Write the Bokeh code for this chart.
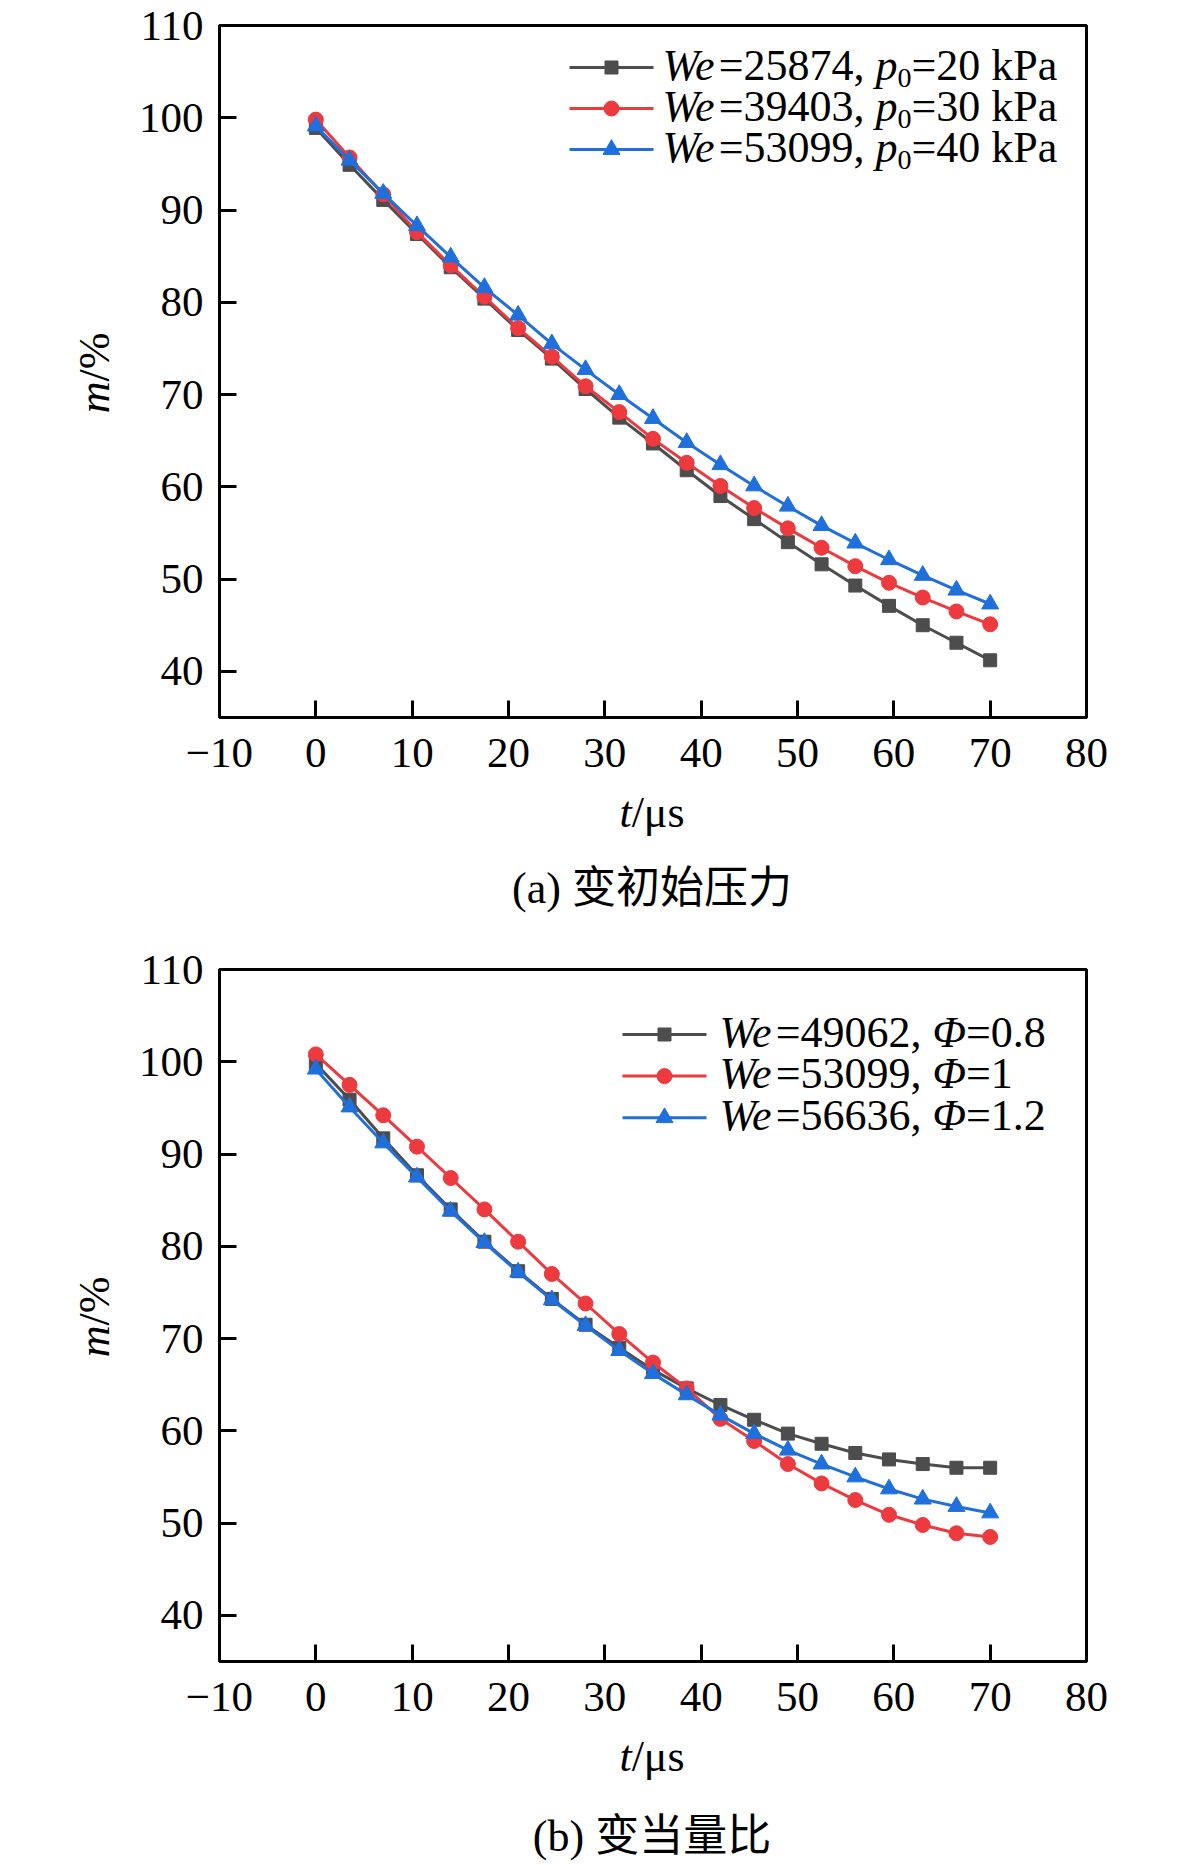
from bokeh.plotting import figure
from bokeh.models import Range1d, FixedTicker, Label, Div
from bokeh.layouts import column, row
from bokeh.embed import file_html
from bokeh.resources import INLINE

# --- data ---
T_US = [0, 3.5, 7, 10.5, 14, 17.5, 21, 24.5, 28, 31.5, 35,
        38.5, 42, 45.5, 49, 52.5, 56, 59.5, 63, 66.5, 70]

# (a) varying initial pressure
M_A_20KPA = [98.9, 94.9, 91.1, 87.4, 83.8, 80.4, 77.0, 73.9, 70.6, 67.5, 64.7,
             61.8, 59.0, 56.5, 54.0, 51.6, 49.3, 47.1, 45.0, 43.1, 41.2]
M_A_30KPA = [99.8, 95.7, 91.7, 87.6, 84.0, 80.6, 77.2, 74.1, 70.9, 68.1, 65.2,
             62.6, 60.1, 57.7, 55.5, 53.4, 51.4, 49.6, 48.0, 46.5, 45.1]
M_A_40KPA = [99.1, 95.4, 91.8, 88.3, 84.9, 81.6, 78.6, 75.5, 72.7, 70.0, 67.4,
             64.8, 62.4, 60.1, 57.9, 55.8, 53.9, 52.1, 50.4, 48.8, 47.3]
WE_A = ["25874", "39403", "53099"]
P0_A = ["20", "30", "40"]

# (b) varying equivalence ratio
M_B_PHI08 = [99.8, 95.9, 91.7, 87.7, 84.0, 80.5, 77.3, 74.3, 71.5, 69.0, 66.6,
             64.6, 62.8, 61.2, 59.7, 58.6, 57.6, 56.9, 56.4, 56.0, 56.0]
M_B_PHI10 = [100.8, 97.5, 94.2, 90.8, 87.4, 84.0, 80.5, 77.0, 73.8, 70.5, 67.4,
             64.6, 61.3, 58.9, 56.4, 54.3, 52.5, 50.9, 49.8, 48.9, 48.5]
M_B_PHI12 = [99.2, 95.1, 91.2, 87.5, 83.8, 80.4, 77.2, 74.2, 71.4, 68.7, 66.2,
             63.9, 61.7, 59.7, 57.9, 56.4, 55.0, 53.7, 52.6, 51.8, 51.1]
WE_B = ["49062", "53099", "56636"]
PHI_B = ["0.8", "1", "1.2"]

X_TICKS = [-10, 0, 10, 20, 30, 40, 50, 60, 70, 80]
Y_TICKS = [40, 50, 60, 70, 80, 90, 100, 110]

# --- style ---
FONT = "Liberation Serif"
COLORS = ["#4d4d4d", "#ec3a3f", "#1f6fdc"]
MARKERS = [("square", 13), ("circle", 15), ("triangle", 17)]
TICK_SIZE = 43
LEG_SIZE = 44
SUB_SIZE = 28
FW, FH = 867, 692
YLAB_W = 120          # width of the strip holding the rotated y title
TOTAL_W = 1166
BASELINE_FIX = 0.39   # Label "alphabetic" sits this many em lower than asked

# Times/Liberation Serif advance widths (1/1000 em)
REG_W = {c: 500 for c in "0123456789"}
REG_W.update({"=": 564, ",": 250, " ": 250, ".": 250, "k": 500, "P": 556, "a": 444})
ITA_W = {"W": 833, "e": 444, "p": 500, "Φ": 760}


def text_width(s, size, italic=False):
    table = ITA_W if italic else REG_W
    return sum(table.get(c, 500) for c in s) * size / 1000.0


def add_label(p, x, baseline, text, size, italic=False):
    p.add_layout(Label(
        x=x, y=baseline + BASELINE_FIX * size, text=text,
        x_range_name="px", y_range_name="px",
        text_font=FONT, text_font_size=f"{size}px",
        text_font_style="italic" if italic else "normal",
        text_color="black", text_align="left", text_baseline="alphabetic",
    ))


def legend_row(p, x0, line_y, pieces):
    # pieces: (text, italic, subscript); digits centred on the sample line
    base = line_y - 0.338 * LEG_SIZE
    x = x0
    for text, italic, sub in pieces:
        size = SUB_SIZE if sub else LEG_SIZE
        add_label(p, x, base - 7 if sub else base, text, size, italic)
        x += text_width(text, size, italic)


def make_panel(series, rows, top, leg):
    p = figure(
        frame_width=FW, frame_height=FH,
        x_range=Range1d(-10, 80), y_range=Range1d(35, 110),
        min_border_left=219 - YLAB_W, min_border_right=TOTAL_W - 219 - FW,
        min_border_top=top, min_border_bottom=60,
        title=None, toolbar_location=None, output_backend="svg",
        background_fill_color="white", border_fill_color="white",
    )
    p.extra_x_ranges = {"px": Range1d(0, FW)}
    p.extra_y_ranges = {"px": Range1d(0, FH)}

    p.outline_line_color = "black"
    p.outline_line_width = 3
    p.outline_line_alpha = 1
    p.grid.visible = False

    p.xaxis.ticker = FixedTicker(ticks=X_TICKS)
    p.yaxis.ticker = FixedTicker(ticks=Y_TICKS)
    p.xaxis.major_label_overrides = {-10: "\u221210"}
    for ax in (p.xaxis, p.yaxis):
        ax.axis_line_width = 3
        ax.axis_line_color = "black"
        ax.major_tick_line_width = 3
        ax.major_tick_line_color = "black"
        ax.major_tick_in = 17
        ax.major_tick_out = 0
        ax.minor_tick_line_color = None
        ax.major_label_text_font = FONT
        ax.major_label_text_font_size = f"{TICK_SIZE}px"
        ax.major_label_text_color = "black"
    p.xaxis.major_label_standoff = 21
    p.yaxis.major_label_standoff = 16

    # --- series ---
    for vals, color, (marker, size) in zip(series, COLORS, MARKERS):
        p.line(T_US, vals, line_color=color, line_width=3)
        p.scatter(T_US, vals, marker=marker, size=size,
                  fill_color=color, line_color=color)

    # --- legend: samples + composed rich text ---
    lx0, lx1, ltext, ly, dy = leg
    for i, (color, (marker, size)) in enumerate(zip(COLORS, MARKERS)):
        y = ly - i * dy
        p.line([lx0, lx1], [y, y], line_color=color, line_width=3,
               x_range_name="px", y_range_name="px")
        p.scatter([(lx0 + lx1) / 2], [y], marker=marker, size=size,
                  fill_color=color, line_color=color,
                  x_range_name="px", y_range_name="px")
        legend_row(p, ltext, y, rows[i])
    return p


SPAN = ("position:absolute;white-space:nowrap;line-height:1;color:#000;"
        "font-family:'Liberation Serif','Noto Sans CJK SC';")


def ylabel_strip(height, cy):
    html = (f'<div style="position:relative;width:{YLAB_W}px;height:{height}px;">'
            f'<span style="{SPAN}font-size:44px;left:95px;top:{cy}px;'
            'transform:translate(-50%,-50%) rotate(-90deg);"><i>m</i>/%</span></div>')
    return Div(text=html, width=YLAB_W, height=height, margin=0)


def bottom_strip(height, caption, cap_top):
    html = (f'<div style="position:relative;width:{TOTAL_W}px;height:{height}px;">'
            f'<span style="{SPAN}font-size:44px;left:652px;top:14px;'
            'transform:translateX(-50%);"><i>t</i>/\u03bcs</span>'
            f'<span style="{SPAN}font-size:44px;left:652px;top:{cap_top}px;'
            f'transform:translateX(-50%);">{caption}</span></div>')
    return Div(text=html, width=TOTAL_W, height=height, margin=0)


rows_a = [[("We", True, False), ("=" + we + ", ", False, False), ("p", True, False),
           ("0", False, True), ("=" + p0 + " kPa", False, False)]
          for we, p0 in zip(WE_A, P0_A)]
rows_b = [[("We", True, False), ("=" + we + ", ", False, False), ("Φ", True, False),
           ("=" + phi, False, False)]
          for we, phi in zip(WE_B, PHI_B)]

pa = make_panel([M_A_20KPA, M_A_30KPA, M_A_40KPA], rows_a, top=25,
                leg=(350, 434, 443, 650, 41))
pb = make_panel([M_B_PHI08, M_B_PHI10, M_B_PHI12], rows_b, top=33,
                leg=(403, 487, 500, 627, 41.6))

layout = column(
    row(ylabel_strip(777, 373), pa),
    bottom_strip(159, "(a) 变初始压力", 90),
    row(ylabel_strip(785, 381), pb),
    bottom_strip(144, "(b) 变当量比", 94),
)
open("out.html", "w", encoding="utf-8").write(file_html(layout, INLINE))
